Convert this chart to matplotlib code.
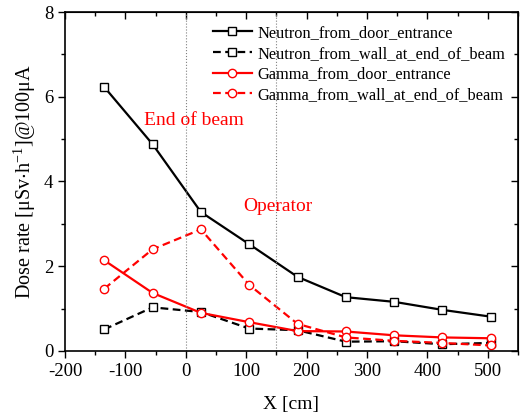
import matplotlib.pyplot as plt
import numpy as np
from matplotlib.ticker import MultipleLocator

plt.rcParams['font.family'] = ['Liberation Serif', 'DejaVu Serif']
plt.rcParams['mathtext.fontset'] = 'stix'
plt.rcParams['axes.unicode_minus'] = False

# positions along the corridor [cm]
x_cm = [-135, -55, 25, 105, 185, 265, 345, 425, 505]

# dose rates [uSv/h] @ 100 uA
neutron_door = [6.23, 4.88, 3.28, 2.52, 1.75, 1.27, 1.16, 0.97, 0.81]
neutron_wall = [0.51, 1.03, 0.92, 0.53, 0.49, 0.22, 0.23, 0.16, 0.19]
gamma_door = [2.14, 1.37, 0.90, 0.68, 0.47, 0.46, 0.37, 0.32, 0.30]
gamma_wall = [1.47, 2.40, 2.87, 1.56, 0.64, 0.32, 0.24, 0.19, 0.13]

fig = plt.figure(figsize=(5.31, 4.17), dpi=100)
ax = fig.add_axes([0.1224, 0.1583, 0.8531, 0.8129])

mk = dict(markersize=6, markerfacecolor='white', markeredgewidth=1.0)
dash = (3.5, 2.0)
ax.plot(x_cm, neutron_door, '-', color='black', lw=1.6, marker='s',
        markeredgecolor='black', label='Neutron_from_door_entrance', **mk)
ax.plot(x_cm, neutron_wall, '--', dashes=dash, color='black', lw=1.6, marker='s',
        markeredgecolor='black', label='Neutron_from_wall_at_end_of_beam', **mk)
ax.plot(x_cm, gamma_door, '-', color='red', lw=1.6, marker='o',
        markeredgecolor='red', label='Gamma_from_door_entrance', **mk)
ax.plot(x_cm, gamma_wall, '--', dashes=dash, color='red', lw=1.6, marker='o',
        markeredgecolor='red', label='Gamma_from_wall_at_end_of_beam', **mk)

# end of beam and operator positions
ax.axvline(0, color='gray', lw=0.8, ls=':')
ax.axvline(150, color='gray', lw=0.8, ls=':')
ax.text(-70, 5.33, 'End of beam', color='red', fontsize=14)
ax.text(95, 3.3, 'Operator', color='red', fontsize=14)

ax.set_xlim(-200, 550)
ax.set_ylim(0, 8)
ax.xaxis.set_major_locator(MultipleLocator(100))
ax.xaxis.set_minor_locator(MultipleLocator(50))
ax.yaxis.set_major_locator(MultipleLocator(2))
ax.yaxis.set_minor_locator(MultipleLocator(1))
ax.tick_params(which='both', direction='out', labelsize=13.5, width=1.0)
ax.tick_params(which='major', length=5)
ax.tick_params(which='minor', length=3)
for s in ax.spines.values():
    s.set_linewidth(1.2)

# mirrored ticks on top and right
top = ax.secondary_xaxis('top')
top.xaxis.set_major_locator(MultipleLocator(100))
top.xaxis.set_minor_locator(MultipleLocator(50))
top.tick_params(which='both', direction='in', labeltop=False, width=1.0)
top.tick_params(which='major', length=5)
top.tick_params(which='minor', length=3)
right = ax.secondary_yaxis('right')
right.yaxis.set_major_locator(MultipleLocator(2))
right.yaxis.set_minor_locator(MultipleLocator(1))
right.tick_params(which='both', direction='in', labelright=False, width=1.0)
right.tick_params(which='major', length=5)
right.tick_params(which='minor', length=3)

ax.set_xlabel('X [cm]', fontsize=14, labelpad=12)
ax.set_ylabel(r'Dose rate [$\mathregular{\mu}$Sv$\cdot$h$^{\mathregular{-1}}$]@100$\mathregular{\mu}$A',
              fontsize=14.5, labelpad=4)

ax.legend(loc='upper right', frameon=False, fontsize=11.8, handlelength=2.4,
          handletextpad=0.3, labelspacing=0.28, borderaxespad=0.4,
          bbox_to_anchor=(1.0, 1.0))

fig.savefig('out.png', dpi=100)
